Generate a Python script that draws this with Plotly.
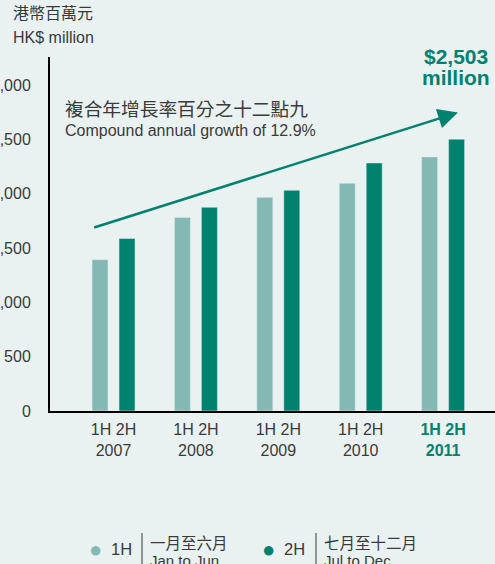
import plotly.graph_objects as go

years = ["2007", "2008", "2009", "2010", "2011"]
first_half = [1393, 1783, 1968, 2098, 2340]
second_half = [1588, 1876, 2033, 2284, 2503]
tick_labels = ["1H 2H<br>2007", "1H 2H<br>2008", "1H 2H<br>2009", "1H 2H<br>2010",
               "<span style='color:#00826F'><b>1H 2H</b></span><br><span style='color:#00826F'><b>2011</b></span>"]

LIGHT = "#83B9B2"
DARK = "#00826F"
BG = "#E9F2F1"
TXT = "#3A3A3A"
FONT = "Liberation Sans, Arial, sans-serif"
CJK = "Noto Sans CJK TC, sans-serif"

# plot area in pixels: x 50..495, y 57..411
def px2x(px):
    return (px - 50) / 445

def py2y(py):
    return (411 - py) / 354

fig = go.Figure()
fig.add_trace(go.Bar(x=years, y=first_half, name="1H", marker_color=LIGHT))
fig.add_trace(go.Bar(x=years, y=second_half, name="2H", marker_color=DARK))

ann = []
# axis title
ann.append(dict(text="港幣百萬元", x=px2x(11), y=py2y(12), font=dict(family=CJK, size=16, color=TXT)))
ann.append(dict(text="HK$ million", x=px2x(11), y=py2y(37), font=dict(family=FONT, size=16, color=TXT)))
# growth note
ann.append(dict(text="複合年增長率百分之十二點九", x=px2x(63), y=py2y(107), font=dict(family=CJK, size=18.7, color=TXT)))
ann.append(dict(text="Compound annual growth of 12.9%", x=px2x(63), y=py2y(130), font=dict(family=FONT, size=16, color=TXT)))
for a in ann:
    a.update(xref="paper", yref="paper", xanchor="left", yanchor="middle", showarrow=False)

# total callout
for txt, py in [("$2,503", 56), ("million", 77)]:
    ann.append(dict(text="<b>" + txt + "</b>", x=px2x(456), y=py2y(py), xref="paper", yref="paper",
                    xanchor="center", yanchor="middle", showarrow=False,
                    font=dict(family=FONT, size=21, color=DARK)))

# growth arrow
ann.append(dict(x=px2x(458), y=py2y(112.5), xref="paper", yref="paper", axref="pixel", ayref="pixel",
                ax=92.7 - 458, ay=228 - 112.5, text="", showarrow=True, arrowhead=2, arrowsize=1.6,
                arrowwidth=2.5, arrowcolor=DARK, standoff=0))

# legend
for dot_x, color, code, cn, en, line_x in [(95, LIGHT, "1H", "一月至六月", "Jan to Jun", 142),
                                           (268, DARK, "2H", "七月至十二月", "Jul to Dec", 316)]:
    ann.append(dict(text="●", x=px2x(dot_x), y=py2y(549), font=dict(family=FONT, size=22, color=color),
                    xanchor="center"))
    ann.append(dict(text=code, x=px2x(dot_x + 14), y=py2y(549), font=dict(family=FONT, size=16.5, color=TXT),
                    xanchor="left"))
    ann.append(dict(text=cn, x=px2x(line_x + 6), y=py2y(542), font=dict(family=CJK, size=15.5, color=TXT),
                    xanchor="left"))
    ann.append(dict(text=en, x=px2x(line_x + 6), y=py2y(560), font=dict(family=FONT, size=15, color=TXT),
                    xanchor="left"))
    fig.add_shape(type="line", xref="paper", yref="paper", x0=px2x(line_x), x1=px2x(line_x),
                  y0=py2y(533), y1=py2y(570), line=dict(color=TXT, width=1))
for a in ann[-8:]:
    a.update(xref="paper", yref="paper", yanchor="middle", showarrow=False)

fig.update_layout(
    width=495, height=564,
    margin=dict(l=50, r=0, t=57, b=153, autoexpand=False),
    paper_bgcolor=BG, plot_bgcolor=BG,
    barmode="group", bargap=0.345, bargroupgap=0.407,
    showlegend=False,
    annotations=ann,
    font=dict(family=FONT, color=TXT),
)
fig.update_xaxes(type="category", range=[-0.771, 4.63], tickvals=years, ticktext=tick_labels,
                 showline=True, linecolor="black", linewidth=2, showgrid=False, ticks="",
                 tickfont=dict(family=FONT, size=16, color=TXT), ticklabelstandoff=3, automargin=False)
fig.update_yaxes(range=[0, 3260], tickvals=[0, 500, 1000, 1500, 2000, 2500, 3000], tickformat=",",
                 showline=True, linecolor="black", linewidth=2, showgrid=False, zeroline=False, ticks="",
                 tickfont=dict(family=FONT, size=16, color=TXT), ticklabelstandoff=14, automargin=False)

fig.write_html("out.html", config={"displayModeBar": False},
               post_script="document.body.style.margin='0';")
